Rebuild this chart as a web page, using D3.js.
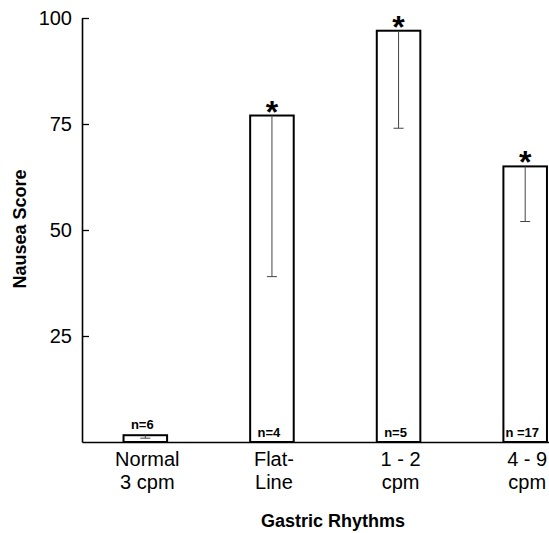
<!DOCTYPE html>
<html>
<head>
<meta charset="utf-8">
<script src="https://cdn.jsdelivr.net/npm/d3@7/dist/d3.min.js"></script>
<style>
  html, body { margin: 0; padding: 0; background: #fff; }
  svg { display: block; font-family: "Liberation Sans", Arial, Helvetica, sans-serif; }
</style>
</head>
<body>
<svg id="chart" width="549" height="533"></svg>
<script>
// Gastric rhythm groups (two-line labels)
const categories = ["Normal 3 cpm", "Flat-Line", "1 - 2 cpm", "4 - 9 cpm"];
const labelLines = [["Normal", "3 cpm"], ["Flat-", "Line"], ["1 - 2", "cpm"], ["4 - 9", "cpm"]];
// Mean nausea score per group
const means = [1.6, 77, 97, 65];
// Lower end of the error bar (mean minus SE)
const errLow = [0.9, 39, 74, 52];
// Subjects per group and their label text
const nCounts = [6, 4, 5, 17];
const nLabels = ["n=6", "n=4", "n=5", "n =17"];
// Groups marked as significantly different
const significant = [false, true, true, true];
// Y axis ticks
const yTicks = [25, 50, 75, 100];

const svg = d3.select("#chart");
const x = d3.scaleBand().domain(categories).range([82, 588.5])
  .paddingInner(0.656).paddingOuter(0.328);
const y = d3.scaleLinear().domain([0, 100]).range([442, 18]);

const rows = categories.map((c, i) => ({
  cat: c, mean: means[i], low: errLow[i], n: nCounts[i], nLabel: nLabels[i],
  sig: significant[i], lines: labelLines[i]
}));

// Bars: white fill with black outline
svg.append("g").selectAll("rect").data(rows).join("rect")
  .attr("x", d => x(d.cat))
  .attr("y", d => y(d.mean))
  .attr("width", x.bandwidth())
  .attr("height", d => y(0) - y(d.mean))
  .attr("fill", "#fff")
  .attr("stroke", "#000")
  .attr("stroke-width", 2);

// Lower error bars with caps
const err = svg.append("g").attr("stroke", "#444").attr("stroke-width", 1);
err.selectAll("line.v").data(rows).join("line").attr("class", "v")
  .attr("x1", d => x(d.cat) + x.bandwidth() / 2)
  .attr("x2", d => x(d.cat) + x.bandwidth() / 2)
  .attr("y1", d => y(d.mean))
  .attr("y2", d => y(d.low));
err.selectAll("line.cap").data(rows).join("line").attr("class", "cap")
  .attr("x1", d => x(d.cat) + x.bandwidth() / 2 - 5)
  .attr("x2", d => x(d.cat) + x.bandwidth() / 2 + 5)
  .attr("y1", d => y(d.low))
  .attr("y2", d => y(d.low));

// Significance asterisks
svg.append("g").selectAll("text").data(rows.filter(d => d.sig)).join("text")
  .attr("x", d => x(d.cat) + x.bandwidth() / 2)
  .attr("y", d => y(d.mean) + 7)
  .attr("text-anchor", "middle")
  .attr("font-size", 32)
  .attr("font-weight", "bold")
  .text("*");

// Sample sizes: inside tall bars, above the short one
svg.append("g").selectAll("text").data(rows).join("text")
  .attr("x", d => x(d.cat) + x.bandwidth() / 2 - 3)
  .attr("y", d => (y(0) - y(d.mean) > 20) ? 437 : y(d.mean) - 6)
  .attr("text-anchor", "middle")
  .attr("font-size", 13)
  .attr("font-weight", "bold")
  .text(d => d.nLabel);

// Y axis with inward ticks
const yAxis = svg.append("g")
  .attr("transform", "translate(82,0)")
  .call(d3.axisLeft(y).tickValues(yTicks).tickSizeInner(-7).tickSizeOuter(0).tickPadding(10));
yAxis.select(".domain").attr("stroke-width", 1.6);
yAxis.selectAll(".tick line").attr("stroke-width", 1.3);
yAxis.selectAll(".tick text")
  .attr("font-size", 20)
  .attr("font-family", "Liberation Sans, Arial, sans-serif")
  .attr("fill", "#000");

// X axis baseline with two-line category labels
const xAxis = svg.append("g")
  .attr("transform", "translate(0,442)")
  .call(d3.axisBottom(x).tickSize(0).tickSizeOuter(0).tickPadding(0));
xAxis.select(".domain").attr("stroke-width", 1.6);
xAxis.selectAll(".tick text").each(function(c) {
  const i = categories.indexOf(c);
  const t = d3.select(this).text(null)
    .attr("y", 0).attr("dy", null)
    .attr("font-size", 20)
    .attr("font-family", "Liberation Sans, Arial, sans-serif")
    .attr("fill", "#000");
  labelLines[i].forEach((ln, k) => {
    t.append("tspan").attr("x", 2).attr("y", 24 + k * 23).text(ln);
  });
});

// Axis titles
svg.append("text")
  .attr("transform", "translate(26,229) rotate(-90)")
  .attr("text-anchor", "middle")
  .attr("font-size", 18)
  .attr("font-weight", "bold")
  .text("Nausea Score");

svg.append("text")
  .attr("x", 333)
  .attr("y", 527)
  .attr("text-anchor", "middle")
  .attr("font-size", 18)
  .attr("font-weight", "bold")
  .text("Gastric Rhythms");
</script>
</body>
</html>
